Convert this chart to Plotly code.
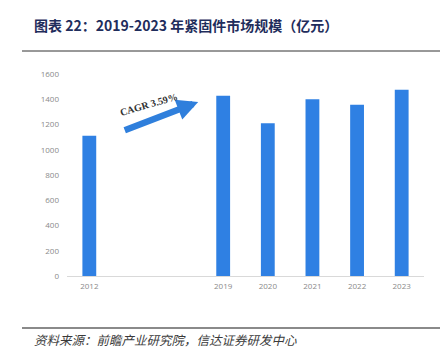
import plotly.graph_objects as go

years = ["2012", "2019", "2020", "2021", "2022", "2023"]
positions = [0, 3, 4, 5, 6, 7]
values = [1110, 1428, 1210, 1400, 1357, 1476]
y_ticks = [0, 200, 400, 600, 800, 1000, 1200, 1400, 1600]

W, H = 447, 362
L, R, T, B = 67, 23, 74, 86
pw, ph = W - L - R, H - T - B

def px(x):
    return (x - L) / pw

def py(y):
    return (H - B - y) / ph

fig = go.Figure()
fig.add_trace(go.Bar(x=positions, y=values, width=0.31,
                     marker=dict(color="#2f80e3", line=dict(width=0))))

fig.update_layout(
    width=W, height=H,
    margin=dict(l=L, r=R, t=T, b=B),
    paper_bgcolor="white", plot_bgcolor="white",
    showlegend=False,
    xaxis=dict(range=[-0.5, 7.5], tickmode="array", tickvals=positions, ticktext=years,
               showgrid=False, zeroline=False, showline=True, linecolor="#d9d9d9", linewidth=1,
               ticks="", ticklabelstandoff=2,
               tickfont=dict(family="Open Sans, Arial", size=8, color="#8a8a8a")),
    yaxis=dict(range=[0, 1600], tickmode="array", tickvals=y_ticks,
               showgrid=False, zeroline=False, showline=False, ticks="", ticklabelstandoff=7,
               tickfont=dict(family="Open Sans, Arial", size=8, color="#8a8a8a")),
    font=dict(family="Noto Sans CJK SC"),
)

# title
fig.add_annotation(text="<b>图表 22：2019-2023 年紧固件市场规模（亿元）</b>",
                   xref="paper", yref="paper", x=px(32), y=py(25), xanchor="left", yanchor="middle",
                   showarrow=False, font=dict(family="Noto Sans CJK SC", size=14, color="#1f2d5c"))
fig.add_shape(type="line", xref="paper", yref="paper", x0=px(22), x1=px(440), y0=py(51), y1=py(51),
              line=dict(color="#333333", width=1))
fig.add_shape(type="line", xref="paper", yref="paper", x0=px(22), x1=px(440), y0=py(328), y1=py(328),
              line=dict(color="#8a8a8a", width=2))
fig.add_annotation(text="<i>资料来源：前瞻产业研究院，信达证券研发中心</i>",
                   xref="paper", yref="paper", x=px(32), y=py(339), xanchor="left", yanchor="middle",
                   showarrow=False, font=dict(family="Noto Sans CJK SC", size=12.5, color="#3a3a3a"))

# CAGR arrow
fig.add_annotation(x=2.44, y=1378, ax=0.76, ay=1150, xref="x", yref="y", axref="x", ayref="y",
                   text="", showarrow=True, arrowhead=2, arrowsize=0.65, arrowwidth=6.5,
                   arrowcolor="#2f7fdc")
fig.add_annotation(x=1.32, y=1360, xref="x", yref="y", text="<b>CAGR 3.59%</b>", showarrow=False,
                   textangle=-16, font=dict(family="Liberation Serif, DejaVu Serif", size=10, color="#333333"))

fig.write_html("out.html", config={"displayModeBar": False},
               post_script="document.body.style.margin='0';document.body.style.padding='0';")
